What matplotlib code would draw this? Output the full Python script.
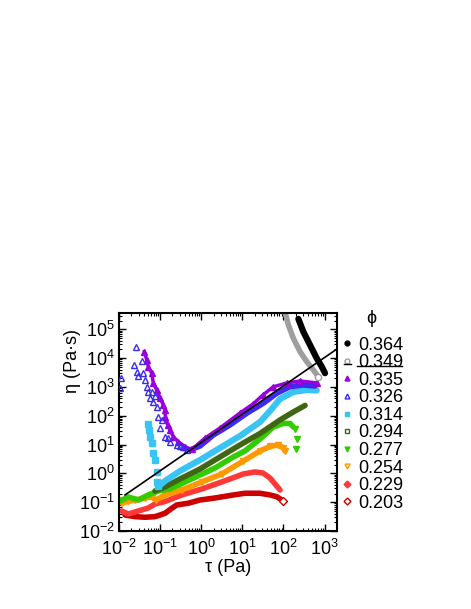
import matplotlib
matplotlib.use('Agg')
import matplotlib.pyplot as plt
from matplotlib.lines import Line2D
from matplotlib.ticker import LogLocator, NullFormatter

plt.rcParams['font.family'] = ['Liberation Sans', 'DejaVu Sans']
plt.rcParams['mathtext.fontset'] = 'custom'
plt.rcParams['mathtext.rm'] = 'Liberation Sans'
plt.rcParams['mathtext.it'] = 'Liberation Sans:italic'

# volume fractions (legend)
phi_labels = ['0.364', '0.349', '0.335', '0.326', '0.314',
              '0.294', '0.277', '0.254', '0.229', '0.203']

# data, tau in Pa, eta in Pa s
tau_364 = [231, 305, 444, 646, 855, 1028]
eta_364 = [2.30e5, 8.3e4, 2.87e4, 9.9e3, 5.1e3, 3.0e3]

tau_349 = [109, 132, 174, 254, 369, 533, 706]
eta_349 = [4.1e5, 1.42e5, 4.9e4, 1.68e4, 7.6e3, 3.9e3, 2.28e3]

tau_335 = [0.0413, 0.0472, 0.0516, 0.0625, 0.0684, 0.0826, 0.0995, 0.120, 0.1315,
           0.1345, 0.153, 0.174, 0.209, 0.277, 0.404, 0.587, 1.24, 2.86, 8.79,
           18.2, 31.9, 55.8, 122, 254, 658]
eta_335 = [16800, 8660, 5070, 2990, 1340, 787, 405, 237, 159,
           93, 48, 32.1, 18.8, 12.6, 8.45, 6.76, 16.9, 37.7, 125,
           257, 527, 1000, 1380, 1610, 1380]

tau_326_lo = [0.0112, 0.0106, 0.0255, 0.0235, 0.027, 0.0295, 0.0356, 0.039, 0.043,
              0.0472, 0.0516, 0.0568, 0.0635, 0.0684, 0.0752, 0.0826, 0.0904,
              0.0995, 0.111, 0.1315, 0.156, 0.174, 0.254, 0.305, 0.366, 0.444]
eta_326_lo = [2000, 902, 23900, 5800, 3400, 2410, 8190, 2990, 1750,
              1020, 687, 405, 670, 309, 487, 207, 93,
              36.8, 71.5, 18.8, 16.9, 12.6, 9.7, 8.9, 8.05, 6.5]
tau_326 = [0.533, 0.935, 1.97, 5.02, 12.8, 32.4, 68.7, 145, 305, 587]
eta_326 = [6.5, 8.9, 21.5, 48, 122, 272, 604, 1020, 1170, 1080]

tau_314_lo = [0.0516, 0.0546, 0.0568, 0.0625, 0.0684, 0.0752, 0.0826, 0.0855, 0.0904]
eta_314_lo = [51.9, 32.1, 18.8, 11.1, 4.99, 2.92, 1.15, 0.515, 0.365]
tau_314 = [0.094, 0.1315, 0.305, 0.935, 2.86, 8.79, 27, 47.2, 82.7, 174, 369, 646]
eta_314 = [0.365, 0.545, 1.21, 2.92, 7.62, 19.9, 61, 147, 383, 670, 787, 755]

tau_294 = [0.0752, 0.1315, 0.305, 0.935, 2.86, 8.79, 27, 82.7, 174, 336]
eta_294 = [0.245, 0.337, 0.64, 1.42, 3.71, 9.7, 24.3, 71.4, 135, 228]

tau_277 = [0.0106, 0.0168, 0.0295, 0.0516, 0.0904, 0.174, 0.404, 0.935, 2.17,
           6.04, 11.6, 27, 56.8, 99.5, 145, 174]
eta_277 = [0.110, 0.152, 0.119, 0.178, 0.245, 0.287, 0.502, 0.88, 1.54,
           3.71, 6.0, 15.6, 40.8, 54.1, 54.1, 40.8]
tau_277_tail = [191, 211, 203]
eta_277_tail = [34.8, 15.0, 6.76]

tau_254 = [0.0097, 0.0116, 0.0168, 0.0245, 0.043, 0.0625, 0.0794, 0.1315, 0.336,
           1.03, 3.15, 10.6, 27, 47.2, 75.2, 99.5, 109]
eta_254 = [0.119, 0.0938, 0.1057, 0.119, 0.14, 0.152, 0.119, 0.178, 0.265,
           0.502, 0.953, 2.70, 6.0, 8.6, 9.7, 7.6, 6.0]

tau_229 = [0.0116, 0.0168, 0.0295, 0.0516, 0.0752, 0.1315, 0.336, 1.03, 3.15,
           10.6, 20.4, 31.9, 47.2, 62.5, 82.7]
eta_229 = [0.0494, 0.0389, 0.0494, 0.063, 0.0866, 0.1057, 0.178, 0.287, 0.502,
           0.953, 1.12, 1.03, 0.692, 0.428, 0.265]

tau_203 = [0.014, 0.0245, 0.043, 0.075, 0.131, 0.191, 0.254, 0.485, 0.935, 2.17,
           6.04, 11.6, 27, 47.2, 68.7, 100]
eta_203 = [0.036, 0.0314, 0.030, 0.0314, 0.041, 0.061, 0.080, 0.092, 0.119, 0.14,
           0.178, 0.204, 0.204, 0.178, 0.155, 0.110]

# straight guide line
tau_fit = [0.014, 1982]
eta_fit = [0.178, 2.05e4]

colors = ['black', '#9e9e9e', '#9900dd', '#3a2bee', '#38c4f4',
          '#3f6612', '#33cc00', '#ff9900', '#ff3838', '#cc0000']
markers = ['o', 'o', '^', '^', 's', 's', 'v', 'v', 'D', 'D']
filled = [True, False, True, False, True, False, True, False, True, False]

fig = plt.figure(figsize=(4.71, 6.09), dpi=100)
ax = fig.add_axes([0.2527, 0.1281, 0.4622, 0.358])

band = 4.0
# bands (dense data)
ax.plot(tau_203, eta_203, color=colors[9], lw=band, solid_capstyle='round', zorder=2)
ax.plot(tau_203[-1], eta_203[-1], 'D', ms=4, mfc='white', mec=colors[9], mew=1, zorder=3)
ax.plot(tau_229, eta_229, color=colors[8], lw=band, solid_capstyle='round', zorder=2)
ax.plot(tau_254, eta_254, color=colors[7], lw=band, solid_capstyle='round', zorder=2,
        marker='v', ms=4, mfc='none', mec=colors[7])
ax.plot(tau_277, eta_277, color=colors[6], lw=band, solid_capstyle='round', zorder=2)
ax.plot(tau_277_tail, eta_277_tail, 'v', color=colors[6], ms=4, ls='none', zorder=2)
ax.plot(tau_294, eta_294, color=colors[5], lw=band, solid_capstyle='round', zorder=2)
ax.plot(tau_314_lo, eta_314_lo, 's', color=colors[4], ms=4, ls='none', zorder=2)
ax.plot(tau_314, eta_314, color=colors[4], lw=band + 0.5, solid_capstyle='round', zorder=2)
ax.plot(tau_326_lo, eta_326_lo, '^', ms=5, mfc='none', mec=colors[3], mew=1, ls='none', zorder=3)
ax.plot(tau_326, eta_326, color=colors[3], lw=band, solid_capstyle='round', zorder=2)
ax.plot(tau_335, eta_335, color=colors[2], lw=2.5, marker='^', ms=4.5, zorder=2)
ax.plot(tau_349, eta_349, color=colors[1], lw=band, solid_capstyle='round', zorder=2)
ax.plot(tau_349[-1], eta_349[-1], 'o', ms=4.5, mfc='white', mec=colors[1], mew=1, zorder=3)
ax.plot(tau_364, eta_364, color=colors[0], lw=band + 0.5, solid_capstyle='round', zorder=2)
ax.plot(tau_fit, eta_fit, color='black', lw=1.2, zorder=4)

ax.set_xscale('log')
ax.set_yscale('log')
ax.set_xlim(1e-2, 1982)
ax.set_ylim(1e-2, 3.7e5)
ax.set_xticks([1e-2, 1e-1, 1e0, 1e1, 1e2, 1e3])
ax.set_yticks([1e-2, 1e-1, 1e0, 1e1, 1e2, 1e3, 1e4, 1e5])
ax.xaxis.set_minor_locator(LogLocator(base=10, subs=range(2, 10), numticks=30))
ax.yaxis.set_minor_locator(LogLocator(base=10, subs=range(2, 10), numticks=30))
ax.xaxis.set_minor_formatter(NullFormatter())
ax.yaxis.set_minor_formatter(NullFormatter())
ax.tick_params(which='both', direction='in', top=True, right=True, labelsize=13)
ax.tick_params(which='major', length=5, width=1)
ax.tick_params(axis='x', which='major', pad=6)
ax.tick_params(axis='y', which='major', pad=3)
ax.tick_params(which='minor', length=2.5, width=0.8)
for s in ax.spines.values():
    s.set_linewidth(1.5)

ax.set_xlabel('τ (Pa)', fontsize=13, labelpad=0)
ax.set_ylabel('η (Pa·s)', fontsize=13)
ax.yaxis.set_label_coords(-0.175, 0.78)

handles = []
for c, m, f in zip(colors, markers, filled):
    handles.append(Line2D([], [], ls='none', marker=m, ms=3.5, mew=1,
                          mec=c, mfc=c if f else 'white'))
leg = ax.legend(handles, phi_labels, title='ϕ', loc='upper left',
                bbox_to_anchor=(340 / 471, 1 - 310 / 609), bbox_transform=fig.transFigure,
                frameon=False, fontsize=13, title_fontsize=13, handlelength=0.8,
                handletextpad=0.2, labelspacing=0.03, borderpad=0, borderaxespad=0)
leg._legend_box.sep = 7

# stray guide-line key drawn under the 0.349 entry, as in the original
fig.add_artist(Line2D([344 / 471, 351 / 471], [1 - 364 / 609] * 2, color='black', lw=1))
fig.add_artist(Line2D([357 / 471, 402 / 471], [1 - 366 / 609] * 2, color='black', lw=1))

fig.savefig('out.png', dpi=100)
